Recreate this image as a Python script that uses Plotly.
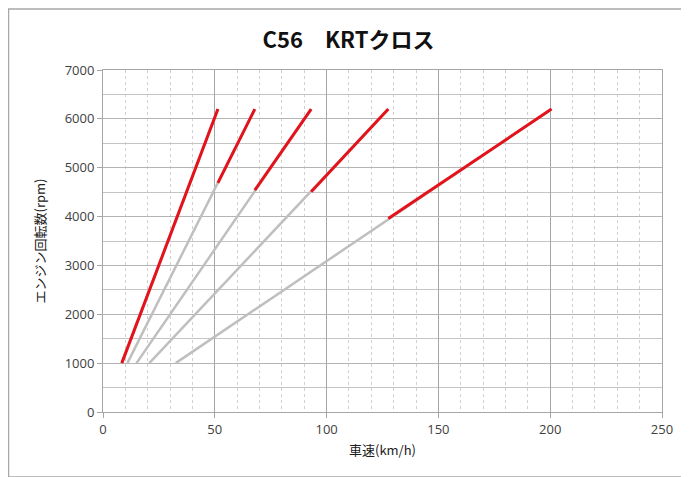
import plotly.graph_objects as go

# Data (km/h, rpm)
gears = ["1st", "2nd", "3rd", "4th", "5th"]
speed_at_1000 = [8.4, 10.9, 15.0, 20.7, 32.5]        # gray line start (1000 rpm)
top_speed = [51.4, 67.9, 93.1, 127.6, 200.6]         # speed at 6200 rpm
rev_limit = [6200, 6200, 6200, 6200, 6200]
red_start_speed = [8.4, 51.4, 67.9, 93.1, 127.6]
red_start_rpm = [1000, 4690, 4540, 4510, 3960]
start_rpm = [1000, 1000, 1000, 1000, 1000]

x_ticks = [0, 50, 100, 150, 200, 250]
y_ticks = [0, 1000, 2000, 3000, 4000, 5000, 6000, 7000]

fig = go.Figure()

for i, g in enumerate(gears):
    fig.add_trace(go.Scatter(
        x=[speed_at_1000[i], top_speed[i]], y=[start_rpm[i], rev_limit[i]],
        mode="lines", line=dict(color="#bfbfbf", width=2.5),
        showlegend=False, hoverinfo="skip"))
for i, g in enumerate(gears):
    fig.add_trace(go.Scatter(
        x=[red_start_speed[i], top_speed[i]], y=[red_start_rpm[i], rev_limit[i]],
        mode="lines", line=dict(color="#e3121b", width=3),
        showlegend=False, name=g))

font_fam = "Open Sans, Noto Sans CJK JP, sans-serif"
W, H = 681, 469
L, R, T, B = 95, 27, 62, 65
pw, ph = W - L - R, H - T - B

fig.update_layout(
    width=W, height=H,
    margin=dict(l=L, r=R, t=T, b=B),
    paper_bgcolor="white",
    plot_bgcolor="white",
    title=dict(text="<b>C56　KRTクロス</b>", x=0.5, xref="container", y=1 - 32 / H, yanchor="middle",
               font=dict(family="Noto Sans CJK JP, sans-serif", size=22, color="#111111")),
    shapes=[dict(type="rect", xref="paper", yref="paper", layer="below",
                 x0=-L / pw + 0.5 / pw, x1=1 + (R - 3) / pw, y0=-B / ph, y1=1 + (T - 1) / ph,
                 fillcolor="white", line=dict(color="#a8a8a8", width=1.5))],
    xaxis=dict(range=[0, 250], tickvals=x_ticks, showgrid=True, gridcolor="#a6a6a6", gridwidth=1,
               minor=dict(dtick=10, showgrid=True, gridcolor="#d0d0d0", griddash="dot", gridwidth=1),
               ticks="outside", ticklen=5, tickcolor="#a6a6a6",
               showline=True, linecolor="#a6a6a6", mirror=True, zeroline=False,
               tickfont=dict(family=font_fam, size=13, color="#404040"),
               title=dict(text="車速(km/h)", standoff=9,
                          font=dict(family="Noto Sans CJK JP, sans-serif", size=13, color="#202020"))),
    yaxis=dict(range=[0, 7000], tickvals=y_ticks, showgrid=True, gridcolor="#b5b5b5", gridwidth=1,
               minor=dict(dtick=500, showgrid=True, gridcolor="#c4c4c4", gridwidth=1),
               ticks="outside", ticklen=5, tickcolor="#a6a6a6",
               showline=True, linecolor="#a6a6a6", mirror=True, zeroline=False,
               tickfont=dict(family=font_fam, size=13, color="#404040"),
               title=dict(text="エンジン回転数(rpm)", standoff=16,
                          font=dict(family="Noto Sans CJK JP, sans-serif", size=13, color="#202020"))),
)

fig.write_html("out.html")
